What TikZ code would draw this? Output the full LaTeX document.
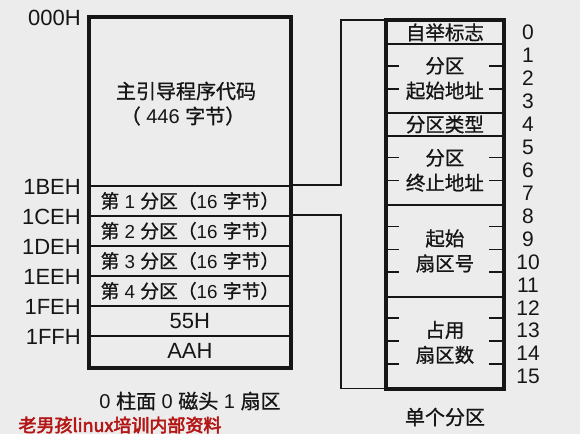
\documentclass[tikz,border=0pt]{standalone}
\usepackage{fontspec}
\setmainfont{Liberation Sans}
\newfontfamily\cjk[FakeBold=0.9]{Noto Sans CJK SC}
\newfontfamily\cjkb[FakeBold=3]{Noto Sans CJK SC}
\newcommand\zh[1]{{\cjk #1}}
\definecolor{bg}{RGB}{236,236,236}
\definecolor{ink}{RGB}{22,22,22}
\definecolor{wm}{RGB}{180,22,22}
\tikzset{
  cell/.style={draw=ink, line width=1.8pt, minimum width=200pt, minimum height=30pt,
    inner sep=0pt, anchor=north west, text=ink, font=\fontsize{18.8}{22}\selectfont},
  bigcell/.style={cell, font=\fontsize{22}{24}\selectfont},
  field/.style={draw=ink, line width=1.8pt, minimum width=116pt, inner sep=0pt,
    anchor=north west, text=ink, align=center, font=\cjk\fontsize{19.5}{25}\selectfont},
  outer/.style={draw=ink, line width=3.6pt},
  conn/.style={draw=ink, line width=1.3pt},
  tickline/.style={draw=ink, line width=1.7pt},
  hex/.style={anchor=east, inner sep=0pt, text=ink, font=\fontsize{22}{24}\selectfont},
  num/.style={inner sep=0pt, text=ink, font=\fontsize{21}{23}\selectfont},
  title/.style={inner sep=0pt, text=ink, font=\fontsize{20}{22}\selectfont},
  wmtext/.style={inner sep=0pt, text=wm, font=\cjkb\fontsize{18}{22}\selectfont},
}
\begin{document}
\begin{tikzpicture}[x=1pt,y=-1pt]
\fill[bg] (0,0) rectangle (580,434);
\useasboundingbox (0,0) rectangle (580,434);

% ---- left: sector 0 ----
\node[cell, minimum height=168pt] (code) at (89,17) {};
\node[title] (t1) at (186,91) {\zh{主引导程序代码}};
\node[title] (t2) at (183,116) {\zh{（} 446 \zh{字节）}};
\node[cell] (p1) at (89,185) {\zh{第} 1 \zh{分区（}16 \zh{字节）}};
\node[cell] (p2) at (89,215) {\zh{第} 2 \zh{分区（}16 \zh{字节）}};
\node[cell] (p3) at (89,245) {\zh{第} 3 \zh{分区（}16 \zh{字节）}};
\node[cell] (p4) at (89,275) {\zh{第} 4 \zh{分区（}16 \zh{字节）}};
\node[bigcell] (s55) at (89,305) {55H};
\node[bigcell, minimum height=31pt] (saa) at (89,335) {AAH};
\draw[outer] (code.north west) rectangle (saa.south east);

\node[hex] (l0) at (81,18) {000H};
\node[hex] (l1) at (81,187) {1BEH};
\node[hex] (l2) at (81,217) {1CEH};
\node[hex] (l3) at (81,247) {1DEH};
\node[hex] (l4) at (81,277) {1EEH};
\node[hex] (l5) at (81,307) {1FEH};
\node[hex] (l6) at (81,337) {1FFH};

\node[title] (cap1) at (190,401) {0 \zh{柱面} 0 \zh{磁头} 1 \zh{扇区}};
\node[wmtext] (wmk) at (120,425) {老男孩linux培训内部资料};

% ---- right: one partition entry ----
\node[field, minimum height=23pt] (f0) at (386,20) {自举标志};
\node[field, minimum height=69pt] (f1) at (386,43) {分区\\起始地址};
\node[field, minimum height=23pt] (f2) at (386,112) {分区类型};
\node[field, minimum height=69pt] (f3) at (386,135) {分区\\终止地址};
\node[field, minimum height=92pt] (f4) at (386,204) {起始\\扇区号};
\node[field, minimum height=91pt] (f5) at (386,296) {占用\\扇区数};
\foreach \b in {2,3,6,7,9,10,11,13,14,15} {
  \draw[tickline] (386,{20+22.94*\b}) -- ++(13,0);
  \draw[tickline] (502,{20+22.94*\b}) -- ++(-13,0);
}
\draw[outer] (f0.north west) rectangle (f5.south east);
\foreach \i in {0,...,15} {
  \node[num] (n\i) at (528,{21+22.94*(\i+0.5)}) {\i};
}
\node[title] (cap2) at (445,417) {\zh{单个分区}};

% ---- connectors ----
\coordinate (j1) at (341,185);
\coordinate (j2) at (341,215);
\draw[conn] (p1.north east) -- (j1) |- (f0.north west);
\draw[conn] (p2.north east) -- (j2) |- (f5.south west);
\end{tikzpicture}
\end{document}
